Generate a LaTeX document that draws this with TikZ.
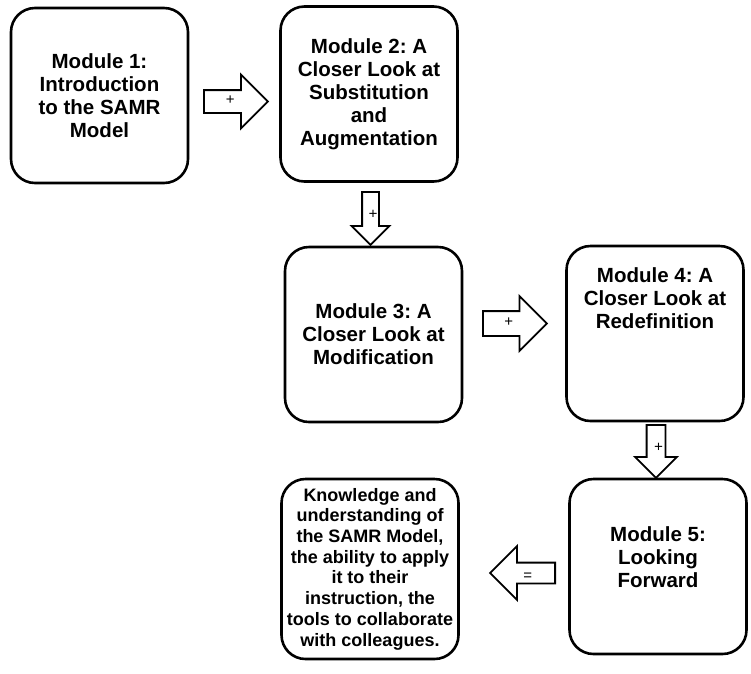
\documentclass[tikz,border=0pt]{standalone}
\usepackage{fontspec}
\setmainfont{Liberation Sans}
\usetikzlibrary{shapes.arrows, positioning, calc}

\tikzset{
  module/.style={draw, line width=2.6pt, rounded corners=24pt, minimum width=177pt, minimum height=175pt, align=center, font=\bfseries\fontsize{20.5}{23}\selectfont},
  modtext/.style={align=center, font=\bfseries\fontsize{20.5}{23}\selectfont},
  blockarrow/.style n args={3}{draw, single arrow, line width=1.8pt, anchor=tail, minimum height=#1, minimum width=0pt, single arrow head extend=#2, inner xsep=3pt, inner ysep=#3, text height=6pt, text depth=1pt, font=\fontsize{15}{15}\selectfont}
}

\begin{document}
\frenchspacing
\begin{tikzpicture}[x=1pt, y=-1pt]
  \useasboundingbox (0,0) rectangle (751,673);

  % Modules
  \node[module] (m1) at (99.5,95.5) {Module 1:\\Introduction\\to the SAMR\\Model};
  \node[module] (m2) at (369,94) {Module 2: A\\Closer Look at\\Substitution\\and\\Augmentation};
  \node[module] (m3) at (373.5,334.5) {Module 3: A\\Closer Look at\\Modification};
  \node[module] (m4) at (655,333.5) {};
  \node[modtext] (t4) at (655,298) {Module 4: A\\Closer Look at\\Redefinition};
  \node[module] (m5) at (658,566.5) {};
  \node[modtext] (t5) at (658,557) {Module 5:\\Looking\\Forward};

  % Outcome
  \node[module, minimum height=180pt, font=\bfseries\fontsize{18}{20.7}\selectfont] (out) at (370,569) {Knowledge and\\understanding of\\the SAMR Model,\\the ability to apply\\it to their\\instruction, the\\tools to collaborate\\with colleagues.};

  % Block arrows
  \node[blockarrow={64pt}{15.5pt}{7pt}] (a1) at (203,101.5) {+};
  \node[blockarrow={53pt}{10.5pt}{4pt}, rotate=-90] (a2) at (370.5,191) {+};
  \node[blockarrow={64pt}{15pt}{8pt}] (a3) at (482,323.5) {+};
  \node[blockarrow={53pt}{11.5pt}{5pt}, rotate=-90] (a4) at (656,424) {+};
  \node[blockarrow={65pt}{16.5pt}{6pt}, rotate=180] (a5) at (556,573) {=};
\end{tikzpicture}
\end{document}
